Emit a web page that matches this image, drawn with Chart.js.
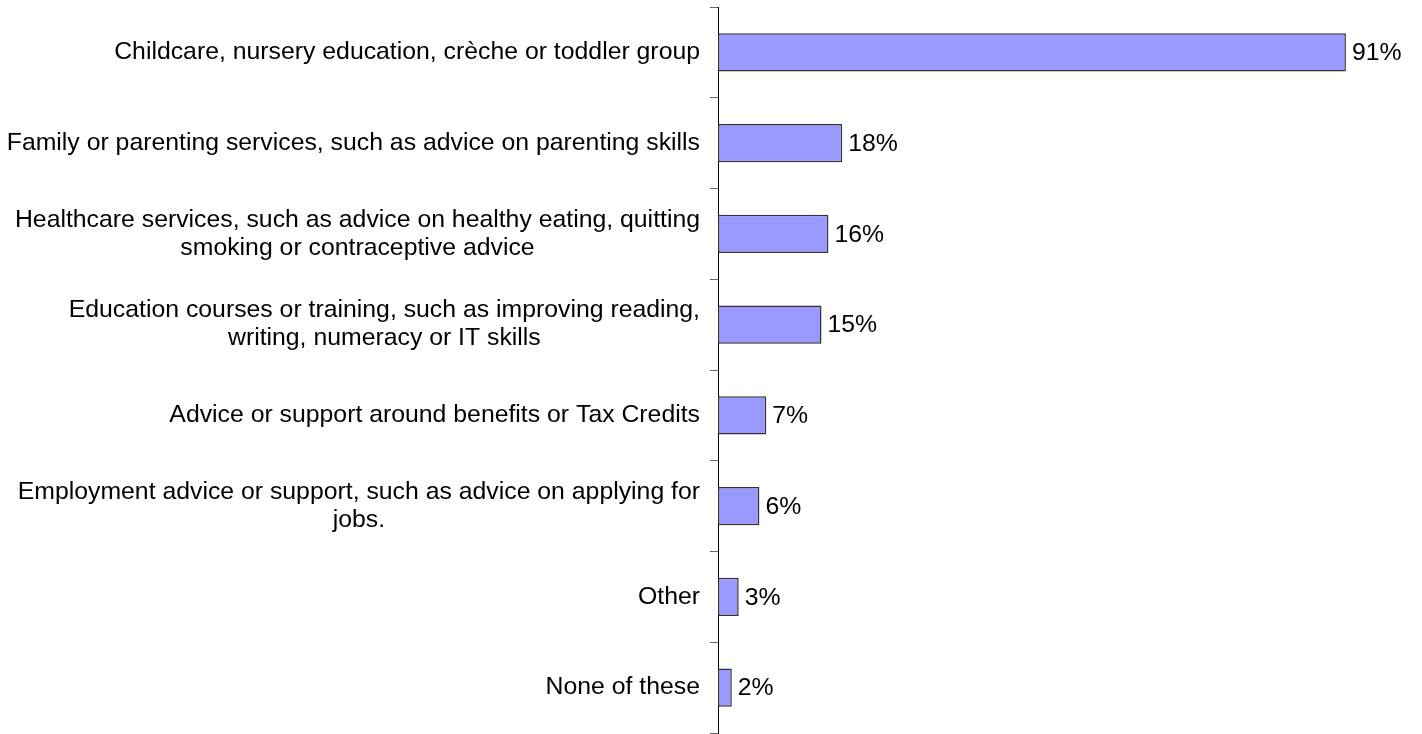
<!DOCTYPE html>
<html>
<head>
<meta charset="utf-8">
<script src="https://cdn.jsdelivr.net/npm/chart.js@4/dist/chart.umd.min.js"></script>
<style>
  html, body { margin: 0; padding: 0; background: #fff; }
  #wrap { width: 1422px; height: 734px; position: relative; }
</style>
</head>
<body>
<div id="wrap"><canvas id="chart"></canvas></div>
<script>
// Service categories (each entry is the list of lines shown on the axis)
const categories = [
  ['Childcare, nursery education, crèche or toddler group'],
  ['Family or parenting services, such as advice on parenting skills'],
  ['Healthcare services, such as advice on healthy eating, quitting', 'smoking or contraceptive advice'],
  ['Education courses or training, such as improving reading,', 'writing, numeracy or IT skills'],
  ['Advice or support around benefits or Tax Credits'],
  ['Employment advice or support, such as advice on applying for', 'jobs.'],
  ['Other'],
  ['None of these']
];

// Share of respondents (%)
const values = [91, 18, 16, 15, 7, 6, 3, 2];

const FONT = '24.8px "Liberation Sans", Arial, sans-serif';

// Draws category labels (right-aligned block, lines centred inside it) and value labels
const labelPlugin = {
  id: 'labels',
  afterDatasetsDraw(chart) {
    const ctx = chart.ctx;
    const yScale = chart.scales.y;
    const xScale = chart.scales.x;
    const lineGap = 28;
    ctx.save();
    ctx.font = FONT;
    ctx.fillStyle = '#000';
    ctx.textBaseline = 'middle';

    categories.forEach((lines, i) => {
      const y = yScale.getPixelForValue(i);
      const widest = Math.max(...lines.map(l => ctx.measureText(l).width));
      const cx = yScale.right - 18 - widest / 2;
      const top = y - (lines.length - 1) * lineGap / 2;
      ctx.textAlign = 'center';
      lines.forEach((l, j) => ctx.fillText(l, cx, top + j * lineGap));
    });

    ctx.textAlign = 'left';
    values.forEach((v, i) => {
      const x = xScale.getPixelForValue(v);
      const y = yScale.getPixelForValue(i);
      ctx.fillText(v + '%', x + 6, y + 1);
    });
    ctx.restore();
  }
};

new Chart(document.getElementById('chart'), {
  type: 'bar',
  data: {
    labels: categories.map(c => c.join(' ')),
    datasets: [{
      data: values,
      backgroundColor: '#9999ff',
      borderColor: '#333333',
      borderWidth: 1.5,
      borderSkipped: false,
      barPercentage: 0.42,
      categoryPercentage: 1
    }]
  },
  options: {
    indexAxis: 'y',
    responsive: true,
    maintainAspectRatio: false,
    animation: false,
    layout: { padding: { top: 7, bottom: 1, right: 14, left: 0 } },
    plugins: {
      legend: { display: false },
      tooltip: { enabled: false }
    },
    scales: {
      x: {
        display: false,
        min: 0,
        max: 100
      },
      y: {
        afterFit(scale) { scale.width = 718; },
        ticks: { display: false },
        grid: {
          offset: true,
          drawOnChartArea: false,
          drawTicks: true,
          tickLength: 8,
          tickColor: '#666666'
        },
        border: { display: true, color: '#000000', width: 1 }
      }
    }
  },
  plugins: [labelPlugin]
});
</script>
</body>
</html>
